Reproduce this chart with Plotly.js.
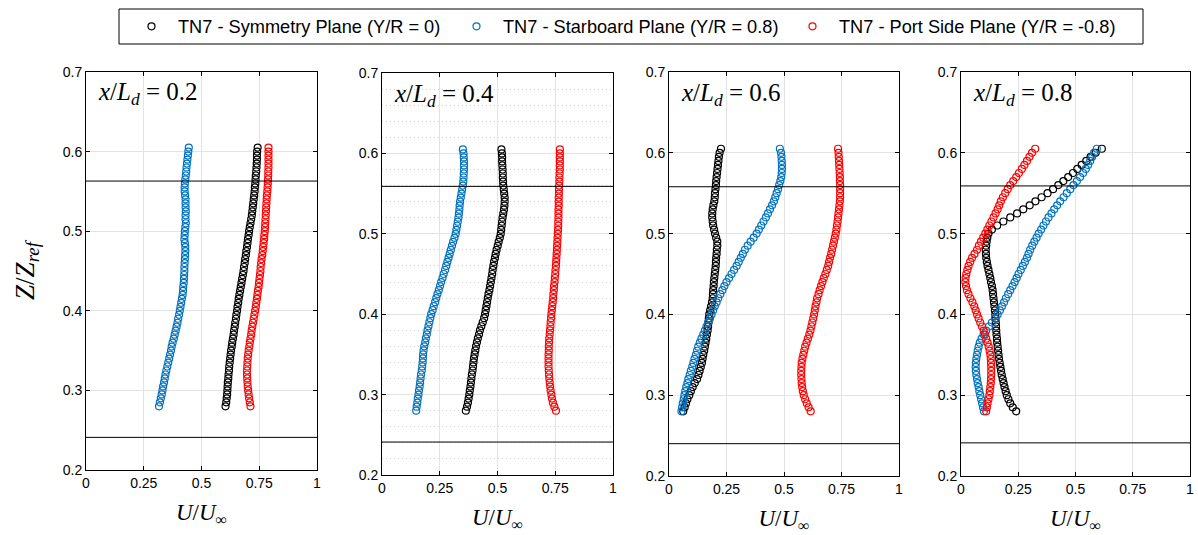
<!DOCTYPE html>
<html>
<head>
<meta charset="utf-8">
<script src="https://cdn.plot.ly/plotly-3.0.1.min.js"></script>
<style>html,body{margin:0;padding:0;background:#fff;}#chart{width:1198px;height:535px;}</style>
</head>
<body>
<div id="chart"></div>
<script>
// Height coordinate Z/Zref shared by every series (bottom to top)
const Z = [0.280,0.285,0.290,0.295,0.300,0.305,0.310,0.315,0.320,0.325,0.330,0.335,0.340,0.345,0.350,0.355,0.360,0.365,0.370,0.375,0.380,0.385,0.390,0.395,0.400,0.405,0.410,0.415,0.420,0.425,0.430,0.435,0.440,0.445,0.450,0.455,0.460,0.465,0.470,0.475,0.480,0.485,0.490,0.495,0.500,0.505,0.510,0.515,0.520,0.525,0.530,0.535,0.540,0.545,0.550,0.555,0.560,0.565,0.570,0.575,0.580,0.585,0.590,0.595,0.600,0.605];

const panelLabels = ["0.2","0.4","0.6","0.8"];
const seriesNames = ["TN7 - Symmetry Plane (Y/R = 0)","TN7 - Starboard Plane (Y/R = 0.8)","TN7 - Port Side Plane (Y/R = -0.8)"];
const xTicks = [0,0.25,0.5,0.75,1];
const xTickText = ["0","0.25","0.5","0.75","1"];
const yTicks = [0.2,0.3,0.4,0.5,0.6,0.7];
const yTickText = ["0.2","0.3","0.4","0.5","0.6","0.7"];
// upper / lower reference lines per panel
const refUpper = [0.563,0.559,0.558,0.559];
const refLower = [0.241,0.241,0.240,0.241];

// x/Ld = 0.2
const p1Sym = [0.604,0.607,0.609,0.611,0.612,0.613,0.614,0.616,0.617,0.619,0.620,0.622,0.624,0.626,0.628,0.631,0.633,0.636,0.639,0.641,0.644,0.646,0.649,0.651,0.654,0.656,0.659,0.661,0.664,0.667,0.670,0.673,0.676,0.679,0.682,0.684,0.687,0.689,0.692,0.694,0.697,0.699,0.701,0.704,0.706,0.709,0.712,0.715,0.718,0.720,0.722,0.724,0.726,0.728,0.730,0.731,0.733,0.734,0.735,0.737,0.738,0.739,0.740,0.740,0.741,0.743];
const p1Stb = [0.316,0.320,0.324,0.328,0.331,0.334,0.338,0.341,0.344,0.348,0.352,0.356,0.360,0.364,0.368,0.371,0.375,0.380,0.384,0.388,0.392,0.396,0.399,0.403,0.406,0.409,0.412,0.415,0.418,0.420,0.421,0.423,0.424,0.425,0.426,0.426,0.427,0.428,0.429,0.430,0.430,0.428,0.426,0.427,0.428,0.430,0.432,0.431,0.431,0.432,0.431,0.431,0.431,0.429,0.427,0.427,0.428,0.430,0.432,0.434,0.435,0.437,0.439,0.441,0.443,0.445];
const p1Port = [0.712,0.709,0.706,0.704,0.702,0.700,0.699,0.698,0.697,0.697,0.698,0.699,0.700,0.702,0.704,0.707,0.709,0.712,0.715,0.717,0.720,0.723,0.726,0.729,0.732,0.735,0.737,0.740,0.742,0.744,0.747,0.749,0.751,0.753,0.755,0.756,0.758,0.760,0.763,0.765,0.767,0.769,0.771,0.772,0.774,0.775,0.776,0.777,0.778,0.779,0.780,0.781,0.782,0.783,0.785,0.786,0.787,0.788,0.789,0.789,0.790,0.790,0.790,0.790,0.790,0.790];

// x/Ld = 0.4
const p2Sym = [0.363,0.368,0.372,0.375,0.378,0.380,0.383,0.385,0.387,0.389,0.392,0.394,0.396,0.398,0.401,0.404,0.407,0.411,0.415,0.420,0.424,0.430,0.436,0.442,0.446,0.449,0.452,0.455,0.458,0.461,0.465,0.468,0.471,0.474,0.477,0.479,0.482,0.485,0.489,0.492,0.496,0.501,0.505,0.510,0.514,0.516,0.518,0.520,0.522,0.525,0.528,0.530,0.531,0.531,0.529,0.527,0.525,0.524,0.523,0.523,0.522,0.521,0.520,0.520,0.519,0.517];
const p2Stb = [0.148,0.150,0.153,0.155,0.158,0.160,0.163,0.165,0.167,0.169,0.172,0.174,0.176,0.177,0.178,0.180,0.183,0.187,0.190,0.194,0.197,0.201,0.205,0.209,0.213,0.219,0.224,0.230,0.235,0.240,0.246,0.251,0.256,0.262,0.267,0.273,0.278,0.283,0.288,0.293,0.298,0.303,0.308,0.314,0.319,0.322,0.325,0.328,0.331,0.333,0.335,0.336,0.338,0.341,0.344,0.347,0.350,0.352,0.353,0.354,0.355,0.355,0.355,0.354,0.353,0.350];
const p2Port = [0.753,0.746,0.740,0.736,0.733,0.730,0.728,0.726,0.724,0.723,0.722,0.721,0.721,0.721,0.721,0.722,0.722,0.723,0.724,0.726,0.727,0.729,0.730,0.732,0.733,0.735,0.737,0.739,0.741,0.742,0.744,0.745,0.747,0.748,0.750,0.751,0.753,0.754,0.755,0.756,0.757,0.758,0.759,0.760,0.761,0.762,0.763,0.763,0.764,0.764,0.764,0.765,0.765,0.765,0.766,0.766,0.767,0.768,0.768,0.769,0.770,0.770,0.770,0.770,0.770,0.770];

// x/Ld = 0.6
const p3Sym = [0.062,0.068,0.074,0.080,0.088,0.095,0.103,0.112,0.122,0.128,0.133,0.138,0.143,0.146,0.149,0.153,0.156,0.159,0.162,0.165,0.168,0.170,0.172,0.173,0.175,0.179,0.183,0.187,0.190,0.191,0.192,0.194,0.195,0.197,0.199,0.201,0.203,0.204,0.205,0.207,0.208,0.210,0.210,0.205,0.200,0.196,0.192,0.190,0.188,0.188,0.190,0.193,0.197,0.199,0.200,0.202,0.204,0.205,0.207,0.209,0.211,0.213,0.215,0.217,0.220,0.226];
const p3Stb = [0.054,0.057,0.060,0.064,0.067,0.071,0.075,0.080,0.084,0.090,0.095,0.101,0.106,0.111,0.117,0.122,0.127,0.134,0.141,0.149,0.156,0.163,0.170,0.178,0.185,0.192,0.199,0.207,0.214,0.223,0.232,0.241,0.250,0.261,0.272,0.283,0.294,0.303,0.312,0.321,0.330,0.342,0.355,0.368,0.381,0.391,0.401,0.411,0.421,0.430,0.439,0.448,0.456,0.462,0.468,0.474,0.479,0.484,0.488,0.490,0.491,0.491,0.490,0.489,0.487,0.482];
const p3Port = [0.616,0.607,0.599,0.592,0.586,0.582,0.579,0.577,0.576,0.575,0.575,0.576,0.577,0.580,0.584,0.588,0.592,0.598,0.604,0.610,0.615,0.619,0.623,0.627,0.631,0.634,0.637,0.641,0.644,0.650,0.655,0.661,0.667,0.673,0.680,0.686,0.692,0.696,0.700,0.705,0.709,0.713,0.717,0.721,0.725,0.728,0.730,0.733,0.735,0.737,0.739,0.741,0.743,0.744,0.744,0.744,0.744,0.743,0.743,0.742,0.741,0.740,0.739,0.738,0.737,0.735];

// x/Ld = 0.8
const p4Sym = [0.241,0.226,0.215,0.207,0.200,0.195,0.190,0.186,0.182,0.178,0.175,0.172,0.169,0.166,0.164,0.162,0.160,0.158,0.157,0.155,0.154,0.153,0.152,0.151,0.150,0.148,0.146,0.144,0.142,0.140,0.138,0.135,0.131,0.128,0.124,0.120,0.116,0.113,0.110,0.109,0.108,0.110,0.112,0.115,0.120,0.135,0.158,0.185,0.215,0.245,0.272,0.300,0.325,0.352,0.378,0.402,0.425,0.447,0.468,0.489,0.508,0.527,0.547,0.566,0.588,0.615];
const p4Stb = [0.100,0.096,0.092,0.088,0.084,0.080,0.077,0.073,0.070,0.067,0.065,0.064,0.065,0.067,0.070,0.073,0.077,0.082,0.090,0.099,0.110,0.122,0.135,0.148,0.160,0.170,0.179,0.188,0.196,0.206,0.215,0.225,0.234,0.243,0.251,0.261,0.270,0.279,0.288,0.295,0.302,0.311,0.320,0.330,0.339,0.350,0.360,0.371,0.382,0.395,0.407,0.420,0.433,0.448,0.462,0.477,0.491,0.506,0.520,0.533,0.545,0.555,0.564,0.573,0.581,0.593];
const p4Port = [0.110,0.113,0.116,0.120,0.124,0.126,0.128,0.130,0.131,0.132,0.132,0.132,0.131,0.130,0.128,0.125,0.121,0.116,0.110,0.105,0.099,0.092,0.084,0.077,0.070,0.064,0.058,0.050,0.041,0.033,0.026,0.022,0.019,0.020,0.023,0.028,0.033,0.040,0.048,0.059,0.070,0.078,0.087,0.097,0.106,0.115,0.124,0.133,0.142,0.151,0.160,0.167,0.174,0.183,0.193,0.204,0.215,0.228,0.241,0.253,0.266,0.277,0.288,0.299,0.310,0.324];

const panels = [
  [p1Sym, p1Stb, p1Port],
  [p2Sym, p2Stb, p2Port],
  [p3Sym, p3Stb, p3Port],
  [p4Sym, p4Stb, p4Port]
];
const colors = ["#000000", "#0072BD", "#FF0000"];

// plot area rectangles in pixels [x0, x1, yTop, yBottom]
const W = 1198, H = 535;
const boxes = [[86,317,72,470],[382,613,73,475],[669,899,72,476],[961,1190,72,476]];
// left edge (px) of each legend entry; symbol sits at left + 5 + itemwidth/2
const legendLeft = [125, 450, 786];
const legendIds = ["legend", "legend2", "legend3"];

const legendFont = {family: "Liberation Sans, Arial, sans-serif", size: 18.2, color: "#000"};
const traces = [];
const layout = {
  width: W, height: H,
  margin: {l:0, r:0, t:0, b:0},
  paper_bgcolor: "#fff", plot_bgcolor: "#fff",
  showlegend: true,
  shapes: [
    // legend frame
    {type: "rect", xref: "paper", yref: "paper", x0: 119/W, x1: 1143/W, y0: 1 - 44/H, y1: 1 - 9/H,
     line: {color: "#000", width: 1}, fillcolor: "rgba(0,0,0,0)"}
  ],
  annotations: []
};
legendIds.forEach((id, i) => {
  layout[id] = {
    x: legendLeft[i]/W, xanchor: "left", y: 1 - 8/H, yanchor: "top",
    borderwidth: 0, bgcolor: "rgba(0,0,0,0)", font: legendFont, itemwidth: 43
  };
});

const tickFont = {family: "Liberation Sans, Arial, sans-serif", size: 14, color: "#000"};
const mathFamily = "Liberation Serif, 'Times New Roman', serif";

panels.forEach((series, p) => {
  const xa = p === 0 ? "x" : "x" + (p+1);
  const ya = p === 0 ? "y" : "y" + (p+1);
  const b = boxes[p];
  series.forEach((vals, s) => {
    traces.push({
      type: "scatter", mode: "markers",
      x: vals, y: Z, xaxis: xa, yaxis: ya,
      name: seriesNames[s], legend: legendIds[s], showlegend: p === 0,
      marker: {symbol: "circle-open", size: 7, color: colors[s], line: {width: 1.2, color: colors[s]}},
      hoverinfo: "x+y"
    });
  });
  const xKey = "xaxis" + (p === 0 ? "" : p+1);
  const yKey = "yaxis" + (p === 0 ? "" : p+1);
  layout[xKey] = {
    domain: [b[0]/W, b[1]/W], anchor: ya, range: [0, 1],
    tickvals: xTicks, ticktext: xTickText, ticks: "inside", ticklen: 4, tickcolor: "#000",
    showline: true, linecolor: "#000", linewidth: 1, mirror: "ticks",
    showgrid: true, gridcolor: "#e3e3e3", gridwidth: 1, zeroline: false,
    tickfont: tickFont,
    title: {text: "<i>U</i>/<i>U</i><sub>∞</sub>", font: {family: mathFamily, size: 23, color: "#000"}, standoff: 14}
  };
  layout[yKey] = {
    domain: [1 - b[3]/H, 1 - b[2]/H], anchor: xa, range: [0.2, 0.7],
    tickvals: yTicks, ticktext: yTickText, ticks: "inside", ticklen: 4, tickcolor: "#000",
    showline: true, linecolor: "#000", linewidth: 1, mirror: "ticks",
    showgrid: true, gridcolor: "#e3e3e3", gridwidth: 1, zeroline: false,
    tickfont: tickFont
  };
  if (p === 0) {
    layout[yKey].title = {text: "<i>Z</i>/<i>Z</i><sub><i>ref</i></sub>", font: {family: mathFamily, size: 27, color: "#000"}, standoff: 20};
  }
  if (p === 1) {
    layout[yKey].minor = {dtick: 0.02, showgrid: true, gridcolor: "#cfcfcf", griddash: "1px,3px", gridwidth: 1, ticks: ""};
  }
  [refUpper[p], refLower[p]].forEach(v => {
    layout.shapes.push({type: "line", xref: xa, yref: ya, x0: 0, x1: 1, y0: v, y1: v,
      line: {color: "#000", width: 1}});
  });
  layout.annotations.push({
    xref: xa + " domain", yref: ya + " domain", x: 0.045, y: 0.945,
    xanchor: "left", yanchor: "middle", showarrow: false,
    text: "<i>x</i>/<i>L</i><sub><i>d</i></sub> = " + panelLabels[p],
    font: {family: mathFamily, size: 25, color: "#000"}
  });
});

Plotly.newPlot("chart", traces, layout, {staticPlot: true, displayModeBar: false});
</script>
</body>
</html>
